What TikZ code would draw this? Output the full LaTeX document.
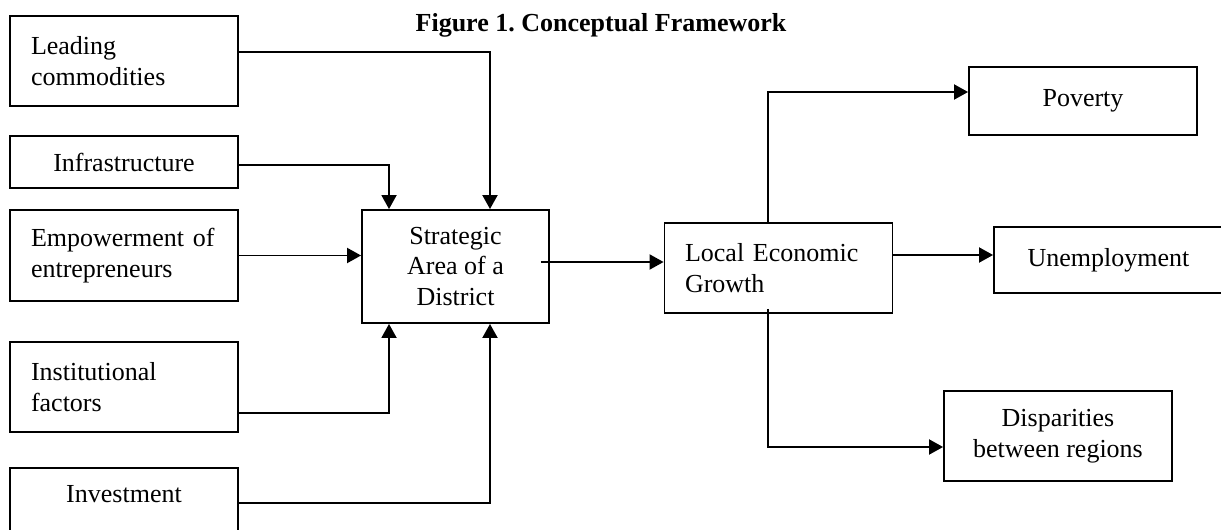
\documentclass[tikz,border=0pt]{standalone}
\usepackage{fontspec}
\setmainfont{Liberation Serif}
\frenchspacing
\usetikzlibrary{arrows.meta}
\begin{document}
\begin{tikzpicture}[x=0.02cm, y=-0.02cm,
		box/.style={draw, line width=1.1pt, minimum width=4.56cm, minimum height=1.8cm, font=\fontsize{14.8}{17.5}\selectfont, align=center},
		leftbox/.style={box, inner xsep=0.42cm, text width=3.72cm, align=left},
		arr/.style={line width=1.1pt, -{Triangle[length=0.28cm, width=0.3cm]}}]
				\clip (0,0) rectangle (1221,530);
				\node[font=\fontsize{14.8}{17.5}\selectfont\bfseries, anchor=base] (title) at (601,32) {Figure 1. Conceptual Framework};
				\node[leftbox] (lead) at (124,61) {Leading\\commodities};
				\node[box, minimum height=1.04cm] (infra) at (124,162) {Infrastructure};
				\node[leftbox, minimum height=1.82cm] (emp) at (124,255.5) {Empowerment of\\entrepreneurs};
				\node[leftbox] (inst) at (124,387) {Institutional\\factors};
				\node[box, anchor=north, inner ysep=0pt, text height=0.7cm, text depth=1.1cm] (inv) at (124,467) {Investment};
				\node[box, minimum width=3.74cm, minimum height=2.26cm] (strat) at (455.5,266.5) {Strategic\\Area of a\\District};
				\node[leftbox, inner xsep=0.4cm, text width=3.74cm] (loc) at (778.5,268) {Local Economic\\Growth};
				\node[box, minimum height=1.36cm] (pov) at (1083,101) {Poverty};
				\node[box, minimum width=4.58cm, minimum height=1.32cm] (unemp) at (1108.5,260) {Unemployment};
				\node[box] (disp) at (1058,436) {Disparities\\between regions};
				\draw[arr] ([yshift=0.18cm]lead.east) -| ([xshift=0.69cm]strat.north);
				\draw[arr] ([yshift=-0.06cm]infra.east) -| ([xshift=-1.33cm]strat.north);
				\draw[arr] (emp.east) -- (emp.east -| strat.west);
				\draw[arr] ([yshift=-0.52cm]inst.east) -| ([xshift=-1.33cm]strat.south);
				\draw[arr] (inv.base east) -| ([xshift=0.69cm]strat.south);
				\draw[arr] ([xshift=-0.18cm, yshift=0.12cm]strat.east |- loc.west) -- ([yshift=0.12cm]loc.west);
				\draw[arr] ([xshift=-0.21cm]loc.north) |- ([yshift=0.18cm]pov.west);
				\draw[arr] ([yshift=0.26cm]loc.east) -- ([yshift=0.26cm]loc.east -| unemp.west);
				\draw[arr] ([xshift=-0.21cm, yshift=0.1cm]loc.south) |- ([yshift=-0.22cm]disp.west);
			\end{tikzpicture}
\end{document}
